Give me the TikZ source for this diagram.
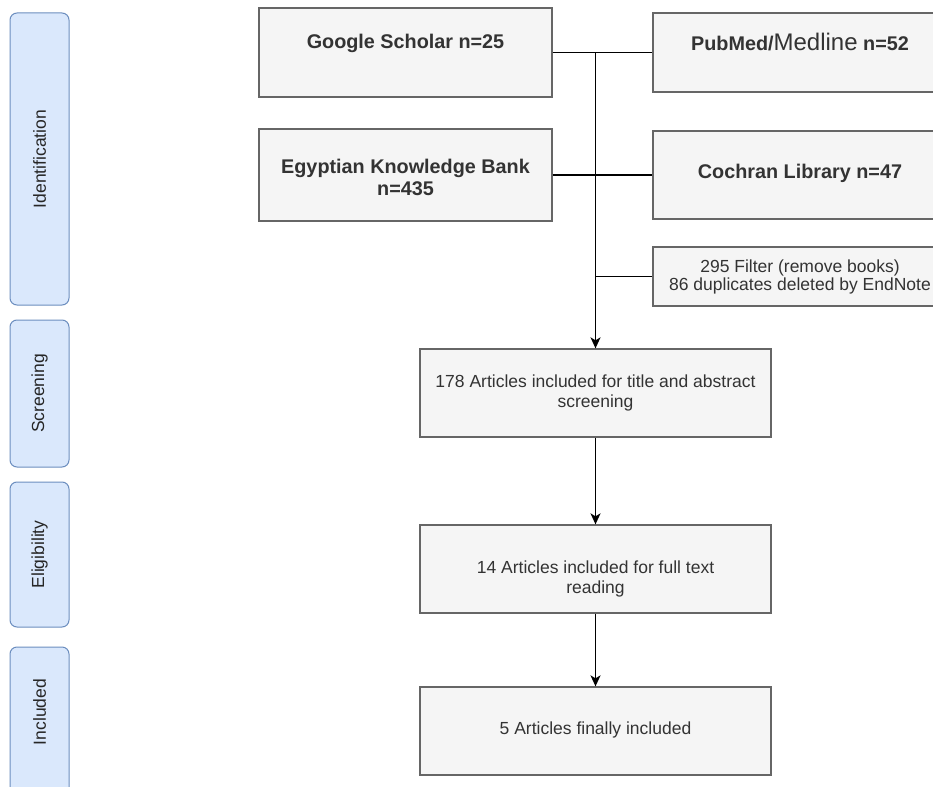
\documentclass[tikz,border=0pt]{standalone}
\usepackage{fontspec}
\setmainfont{Liberation Sans}
\usetikzlibrary{arrows.meta}
\definecolor{boxfill}{HTML}{F5F5F5}
\definecolor{boxline}{HTML}{666666}
\definecolor{txt}{HTML}{333333}
\definecolor{phasefill}{HTML}{DAE8FC}
\definecolor{phaseline}{HTML}{6C8EBF}
\tikzset{
  box/.style={draw=boxline, fill=boxfill, line width=1.3pt, inner sep=0pt, rectangle},
  phase/.style={draw=phaseline, fill=phasefill, line width=1pt, rounded corners=7pt, inner sep=0pt, minimum width=59pt},
  btxt/.style={inner sep=0pt, text=txt, font=\fontsize{19.8}{22}\selectfont\bfseries, align=center},
  rtxt/.style={inner sep=0pt, text=txt, font=\fontsize{17.5}{20}\selectfont, align=center},
  ptxt/.style={inner sep=0pt, text=black!85, font=\fontsize{17.5}{20}\selectfont, rotate=90},
  conn/.style={line width=1.6pt, black},
  arr/.style={conn, -{Stealth[length=11pt, width=10pt, inset=3pt]}}
}
\begin{document}
\begin{tikzpicture}[x=1pt, y=-1pt]
\useasboundingbox (0,0) rectangle (933,786);
\clip (0,0) rectangle (933,786);
\fill[white] (0,0) rectangle (933,786);

% phase boxes
\node[phase, minimum height=292pt] (pid) at (39.5,159) {};
\node[ptxt] (tid) at (pid.center) {Identification};
\node[phase, minimum height=147pt] (pscr) at (39.5,393.5) {};
\node[ptxt] (tscr) at (pscr.center) {Screening};
\node[phase, minimum height=145pt] (pel) at (39.5,554.5) {};
\node[ptxt] (tel) at (pel.center) {Eligibility};
\node[phase, minimum height=153pt] (pinc) at (39.5,723.5) {};
\node[ptxt] (tinc) at (39.5,712) {Included};

% source boxes
\node[box, minimum width=293pt, minimum height=89pt] (gs) at (405.5,52.5) {};
\node[btxt] (tgs) at (405.5,43) {Google Scholar n=25};
\node[box, minimum width=294pt, minimum height=79pt] (pm) at (800,52.5) {};
\node[btxt, anchor=base] (tpm) at (800,51) {PubMed/{\fontsize{24}{26}\selectfont\mdseries Medline} n=52};
\node[box, minimum width=293pt, minimum height=92pt] (ekb) at (405.5,175) {};
\node[btxt] (tekb) at (405.5,177) {Egyptian Knowledge Bank\\n=435};
\node[box, minimum width=294pt, minimum height=88pt] (cl) at (800,175) {};
\node[btxt] (tcl) at (800,173) {Cochran Library n=47};
\node[box, minimum width=294pt, minimum height=59pt] (flt) at (800,276.5) {};
\node[rtxt, font=\fontsize{17.5}{18.5}\selectfont] (tflt) at (800,277) {295 Filter (remove books)\\86 duplicates deleted by EndNote};

% flow boxes
\node[box, minimum width=351pt, minimum height=88pt] (s1) at (595.5,393) {};
\node[rtxt] (ts1) at (595.5,393) {178 Articles included for title and abstract\\screening};
\node[box, minimum width=351pt, minimum height=88pt] (s2) at (595.5,569) {};
\node[rtxt] (ts2) at (595.5,579) {14 Articles included for full text\\reading};
\node[box, minimum width=351pt, minimum height=88pt] (s3) at (595.5,731) {};
\node[rtxt] (ts3) at (595.5,730) {5 Articles finally included};

% connectors
\coordinate (j1) at (gs.east -| s1.north);
\coordinate (j3) at (flt.west -| s1.north);
\draw[conn] (gs.east) -- (pm.west);
\draw[conn] (ekb.east) -- (cl.west);
\draw[conn] (j3) -- (flt.west);
\draw[arr] (j1) -- (s1.north);
\draw[arr] (s1.south) -- (s2.north);
\draw[arr] (s2.south) -- (s3.north);
\end{tikzpicture}
\end{document}
